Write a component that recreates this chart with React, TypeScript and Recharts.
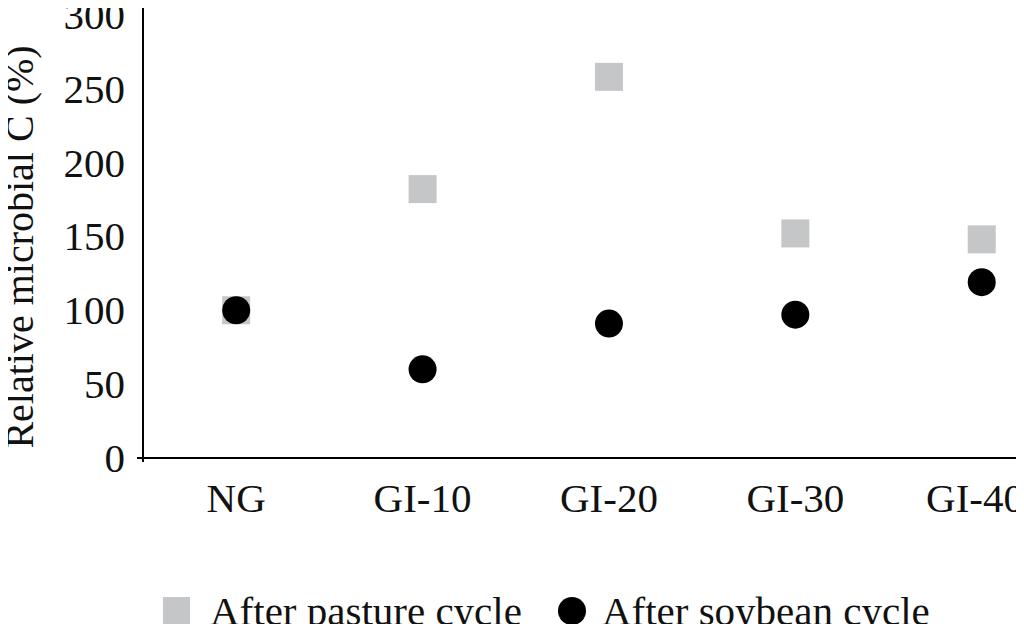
import { ScatterChart, Scatter, XAxis, YAxis, Legend } from "recharts";

// categories along the x axis
const categories = ["NG", "GI-10", "GI-20", "GI-30", "GI-40"];

// relative microbial C (%)
const pastureValues = [100, 182, 258, 152, 148];
const soybeanValues = [100, 60, 91, 97, 119];

const yTicks = [0, 50, 100, 150, 200, 250, 300];

const seriesNames = ["After pasture cycle", "After soybean cycle"];

const FONT = "'Liberation Serif', 'Times New Roman', serif";
const GREY = "#c5c6c8";

const pastureData = pastureValues.map((v, i) => ({ x: i, y: v }));
const soybeanData = soybeanValues.map((v, i) => ({ x: i, y: v }));

const SquareDot = (props: any) => {
  const { cx, cy } = props;
  return <rect x={cx - 14} y={cy - 14} width={28} height={28} fill={GREY} />;
};

const CircleDot = (props: any) => {
  const { cx, cy } = props;
  return <circle cx={cx} cy={cy} r={14} fill="#000" />;
};

// y tick text; the zero tick also gets the little overhang of both axis lines
const YTick = (props: any) => {
  const { x, y, payload } = props;
  return (
    <g>
      {payload.value === 0 && (
        <g stroke="#000" strokeWidth={2}>
          <line x1={x + 12} x2={x + 18} y1={y} y2={y} />
          <line x1={x + 18} x2={x + 18} y1={y} y2={y + 4} />
        </g>
      )}
      <text x={x} y={y} textAnchor="end" dominantBaseline="central" fontSize={41} fontFamily={FONT} fill="#111">
        {payload.value}
      </text>
    </g>
  );
};

const YLabel = () => (
  <text transform="translate(33, 247) rotate(-90)" textAnchor="middle" fontSize={40} fontFamily={FONT} fill="#111">
    Relative microbial C (%)
  </text>
);

const renderLegend = () => (
  <div style={{ height: 42, display: "flex", alignItems: "center", paddingLeft: 163, fontFamily: FONT, fontSize: 41, color: "#111", lineHeight: 1 }}>
    <span style={{ width: 27, height: 28, background: GREY, display: "inline-block" }} />
    <span style={{ marginLeft: 20 }}>{seriesNames[0]}</span>
    <span style={{ width: 28, height: 28, borderRadius: "50%", background: "#000", display: "inline-block", marginLeft: 36 }} />
    <span style={{ marginLeft: 16 }}>{seriesNames[1]}</span>
  </div>
);

export default function App() {
  return (
    <div style={{ margin: -8, width: 1024, height: 632, overflow: "hidden", background: "#fff" }}>
      <ScatterChart width={1024} height={632} margin={{ top: 0, right: 5, bottom: 0, left: 0 }}>
        <XAxis
          type="number"
          dataKey="x"
          domain={[-0.5, 4.2]}
          ticks={[0, 1, 2, 3, 4]}
          tickFormatter={(i) => categories[i]}
          height={132}
          tickLine={false}
          tickSize={0}
          tickMargin={25}
          axisLine={{ stroke: "#000", strokeWidth: 2 }}
          tick={{ fill: "#111", fontSize: 41, fontFamily: FONT }}
        />
        <YAxis
          type="number"
          dataKey="y"
          domain={[0, 310]}
          ticks={yTicks}
          width={143}
          tickLine={false}
          tickSize={0}
          tickMargin={18}
          axisLine={{ stroke: "#000", strokeWidth: 2 }}
          tick={<YTick />}
          label={<YLabel />}
        />
        <Legend verticalAlign="bottom" align="left" content={renderLegend} wrapperStyle={{ left: 0, bottom: 0, width: 1024 }} />
        <Scatter name={seriesNames[0]} data={pastureData} shape={<SquareDot />} isAnimationActive={false} />
        <Scatter name={seriesNames[1]} data={soybeanData} shape={<CircleDot />} isAnimationActive={false} />
      </ScatterChart>
    </div>
  );
}
